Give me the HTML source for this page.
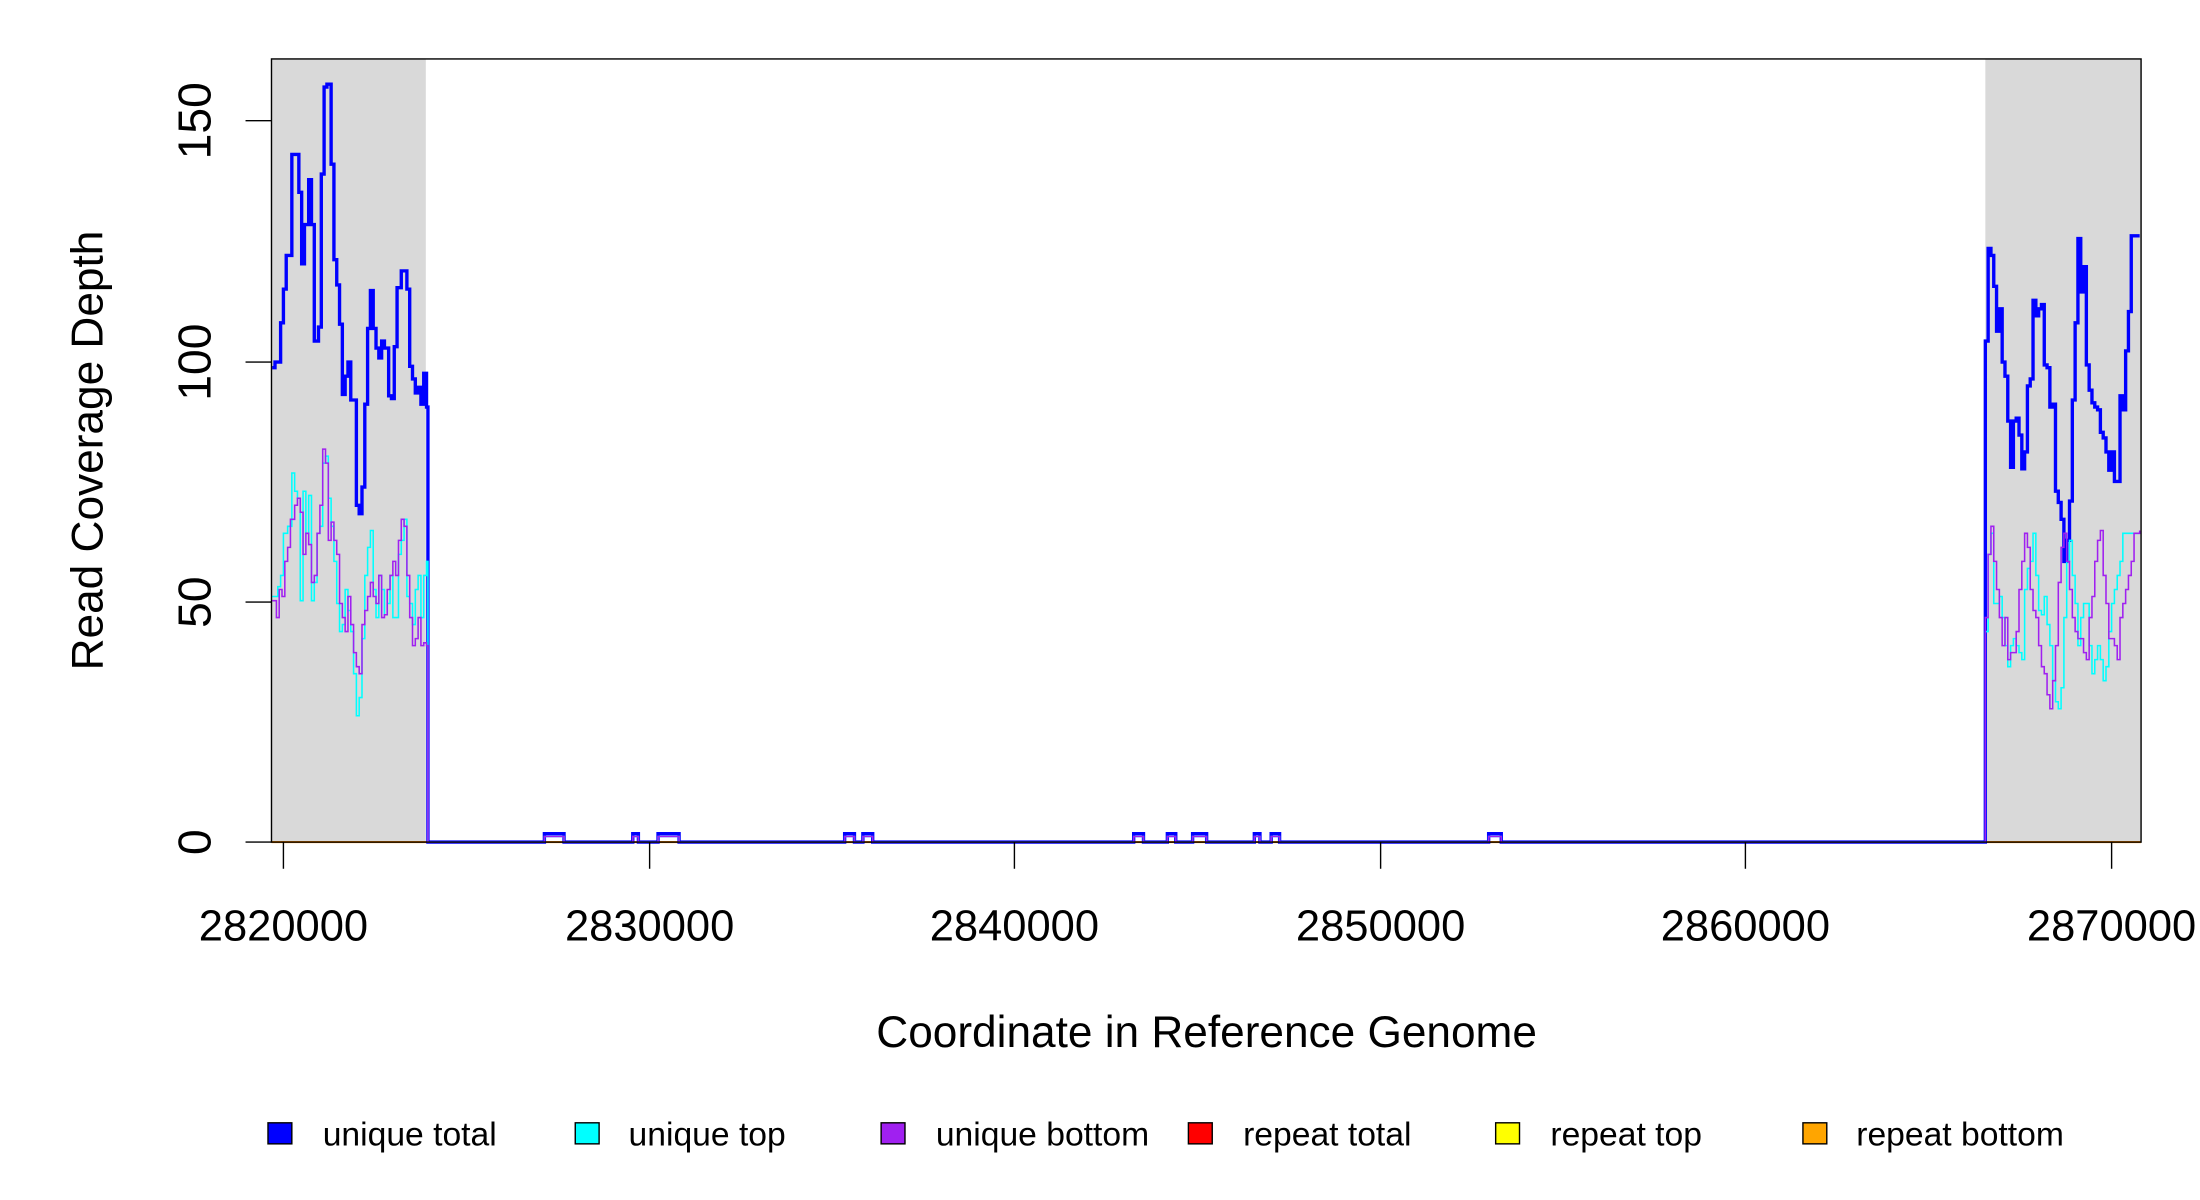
<!DOCTYPE html>
<html><head><meta charset="utf-8"><style>html,body{margin:0;padding:0;background:#fff}svg{display:block}</style></head>
<body>
<svg id="s" xmlns="http://www.w3.org/2000/svg" width="2200" height="1200" viewBox="0 0 1568 855" preserveAspectRatio="none" font-family="Liberation Sans, sans-serif">
<rect x="0" y="0" width="1568" height="855" fill="#fff"/>
<rect x="193.5" y="42" width="110" height="558" fill="#d9d9d9"/>
<rect x="1415" y="42" width="111" height="558" fill="#d9d9d9"/>
<line x1="193.5" y1="600" x2="1526" y2="600" stroke="#ff8c00" stroke-width="1.5"/>
<g id="lines" fill="none"></g>
<rect x="193.5" y="42" width="1332.5" height="558" fill="none" stroke="#000" stroke-width="1"/>
<g stroke="#000" stroke-width="1">
<line x1="175" y1="600" x2="193.5" y2="600"/><line x1="175" y1="429" x2="193.5" y2="429"/><line x1="175" y1="258" x2="193.5" y2="258"/><line x1="175" y1="86" x2="193.5" y2="86"/>
<line x1="202" y1="600" x2="202" y2="619"/><line x1="463" y1="600" x2="463" y2="619"/><line x1="723" y1="600" x2="723" y2="619"/><line x1="984" y1="600" x2="984" y2="619"/><line x1="1244" y1="600" x2="1244" y2="619"/><line x1="1505" y1="600" x2="1505" y2="619"/>
</g>
<g font-size="31" text-anchor="middle">
<text transform="translate(150,600) rotate(-90)" font-size="33">0</text>
<text transform="translate(150,429) rotate(-90)" font-size="33">50</text>
<text transform="translate(150,258) rotate(-90)" font-size="33">100</text>
<text transform="translate(150,86) rotate(-90)" font-size="33">150</text>
<text x="202" y="670">2820000</text><text x="463" y="670">2830000</text><text x="723" y="670">2840000</text><text x="984" y="670">2850000</text><text x="1244" y="670">2860000</text><text x="1505" y="670">2870000</text>
<text x="860" y="746" font-size="31.5">Coordinate in Reference Genome</text>
<text transform="translate(73,321) rotate(-90)" font-size="31.5">Read Coverage Depth</text>
</g>
<g stroke="#000" stroke-width="1">
<rect x="191" y="800" width="17" height="15" fill="#0000ff"/>
<rect x="410" y="800" width="17" height="15" fill="#00ffff"/>
<rect x="628" y="800" width="17" height="15" fill="#a020f0"/>
<rect x="847" y="800" width="17" height="15" fill="#ff0000"/>
<rect x="1066" y="800" width="17" height="15" fill="#ffff00"/>
<rect x="1285" y="800" width="17" height="15" fill="#ffa500"/>
</g>
<g font-size="24">
<text x="230" y="816">unique total</text><text x="448" y="816">unique top</text><text x="667" y="816">unique bottom</text><text x="886" y="816">repeat total</text><text x="1105" y="816">repeat top</text><text x="1323" y="816">repeat bottom</text>
</g>
</svg>
<script>
function step(pts){var d="M"+pts[0][0]+" "+pts[0][1];for(var i=1;i<pts.length;i++){d+=" H"+pts[i][0]+" V"+pts[i][1];}return d;}
function arr(a){var r=[];for(var i=0;i<a.length;i+=2)r.push([a[i],a[i+1]]);return r;}
var bumps=[[388,402],[451,455],[469,484],[602,609],[615,622],[808,815],[832,838],[850,860],[894,898],[906,912],[1061,1070]];
function mid(h){var p=[[305,600]];bumps.forEach(function(b){p.push([b[0],600]);p.push([b[0],600-h]);p.push([b[1],600-h]);p.push([b[1],600]);});p.push([1415,600]);return p;}
var blueL=arr([194,262,196,258,200,230,202,206,204,182,208,110,213,137,215,188,217,160,220,128,222,160,224,243,227,233,229,124,231,62,233,60,236,117,238,185,240,203,242,231,244,281,246,268,248,258,250,285,254,360,256,366,258,347,260,288,262,234,264,207,266,234,268,248,270,255,272,243,274,248,277,282,279,284,281,247,283,205,286,193,290,206,292,261,294,270,296,280,298,276,300,288,302,266,304,290,305,598]);
var blueR=arr([1415,243,1417,177,1419,182,1421,204,1423,236,1425,220,1427,258,1429,268,1431,300,1433,333,1435,300,1437,298,1439,310,1441,334,1443,322,1445,275,1447,270,1449,214,1451,225,1453,220,1455,217,1457,260,1459,262,1461,290,1463,288,1465,350,1467,358,1469,370,1471,400,1473,385,1475,357,1477,285,1479,230,1481,170,1483,208,1485,190,1487,260,1489,278,1491,287,1493,290,1495,292,1497,308,1499,312,1501,322,1503,335,1505,322,1507,343,1509,343,1511,282,1513,292,1515,250,1517,222,1519,168,1525,168]);
var cyL=arr([194,425,198,418,200,410,202,380,205,375,208,337,210,350,212,355,214,428,216,350,218,380,220,353,222,428,224,415,226,380,228,375,230,330,232,325,234,355,236,375,238,400,240,430,242,450,244,445,246,420,248,435,250,450,252,480,254,510,256,497,258,455,260,410,262,390,264,378,266,420,268,440,270,410,272,420,274,438,276,430,278,410,280,440,282,440,284,395,286,385,288,370,290,425,292,430,294,445,296,420,298,410,300,440,302,410,304,400,305,599]);
var puL=arr([194,428,197,440,199,420,201,425,203,400,205,390,207,370,210,360,212,355,214,365,216,395,218,380,220,388,222,415,224,410,226,380,228,360,230,320,232,330,234,385,236,372,238,385,240,395,242,430,244,440,246,450,248,425,250,445,252,465,254,475,256,480,258,445,260,435,262,425,264,415,266,425,268,430,270,410,272,440,274,438,276,420,278,410,280,400,282,410,284,385,286,370,288,375,290,410,292,440,294,460,296,455,298,440,300,460,302,458,304,460,305,600]);
var cyR=arr([1415,450,1417,395,1419,380,1421,430,1423,430,1425,425,1427,440,1429,460,1431,475,1433,460,1435,455,1437,460,1439,465,1441,470,1443,420,1445,405,1447,400,1449,380,1451,410,1453,435,1455,438,1457,425,1459,445,1461,460,1463,485,1465,500,1467,505,1469,490,1471,440,1473,400,1475,385,1477,410,1479,430,1481,460,1483,440,1485,430,1487,430,1489,460,1491,480,1493,470,1495,460,1497,470,1499,485,1501,475,1503,450,1505,430,1507,420,1509,410,1511,400,1513,380,1525,380]);
var puR=arr([1415,440,1417,395,1419,375,1421,400,1423,420,1425,440,1427,460,1429,440,1431,470,1433,465,1435,465,1437,450,1439,420,1441,400,1443,380,1445,390,1447,420,1449,435,1451,440,1453,460,1455,475,1457,480,1459,495,1461,505,1463,485,1465,460,1467,415,1469,390,1471,380,1473,400,1475,420,1477,440,1479,450,1481,455,1483,455,1485,465,1487,470,1489,440,1491,425,1493,400,1495,385,1497,378,1499,410,1501,430,1503,455,1505,455,1507,460,1509,470,1511,440,1513,430,1515,420,1517,410,1519,400,1521,380,1525,378]);
function full(L,R,h){return L.concat(mid(h)).concat([[1415,600]]).concat(R);}
var g=document.getElementById("lines");
function add(pts,c,w){var p=document.createElementNS("http://www.w3.org/2000/svg","path");p.setAttribute("d",step(pts));p.setAttribute("stroke",c);p.setAttribute("stroke-width",w);g.appendChild(p);}
add(full(blueL,blueR,6),"#0000ff",2.4);
add(full(cyL,cyR,4),"#00ffff",1.1);
add(full(puL,puR,4),"#a020f0",1.1);
</script>
</body></html>
